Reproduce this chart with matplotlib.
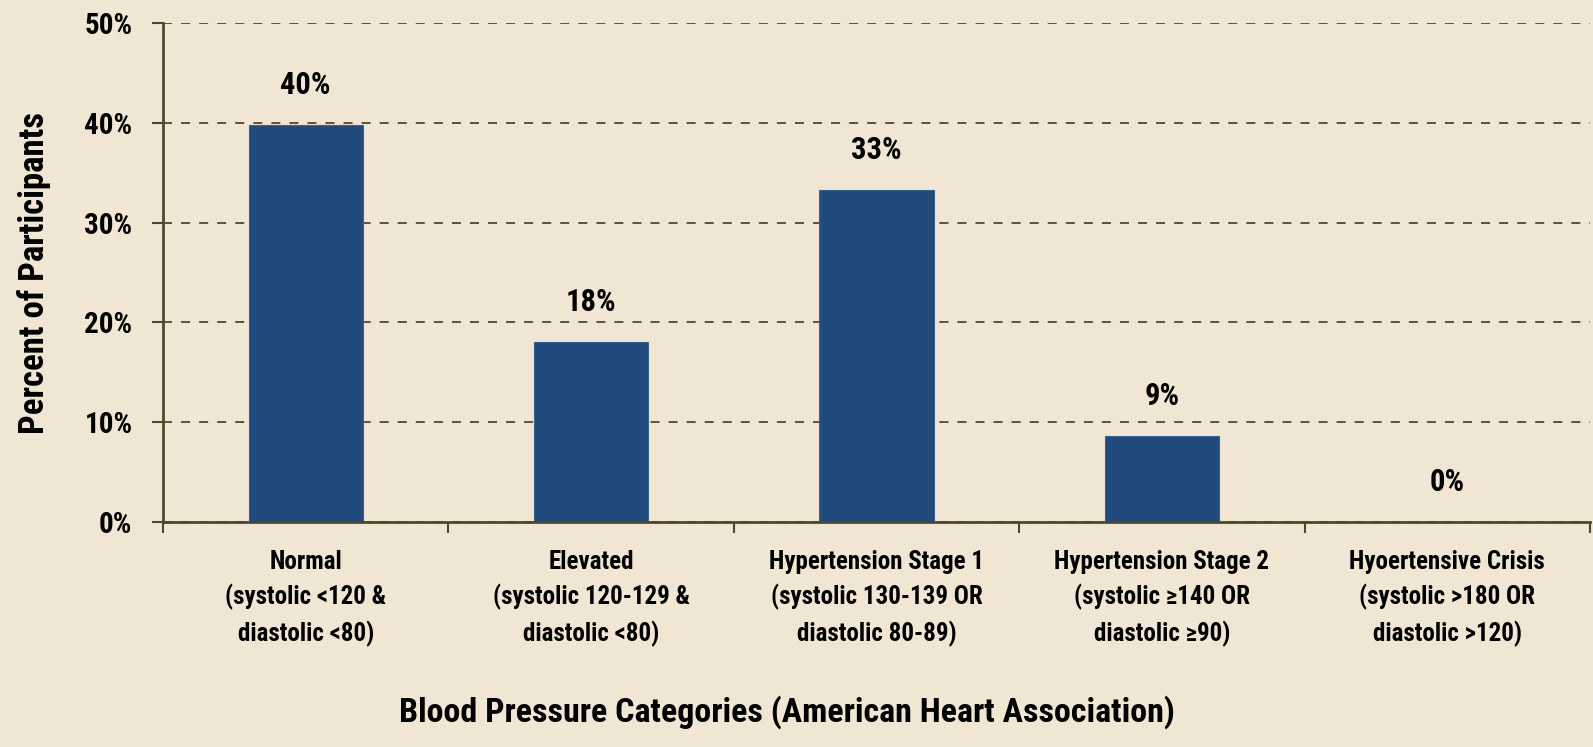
import matplotlib
matplotlib.use("Agg")
import matplotlib.pyplot as plt
from matplotlib import font_manager

# data
categories = [
    "Normal\n(systolic <120 &\ndiastolic <80)",
    "Elevated\n(systolic 120-129 &\ndiastolic <80)",
    "Hypertension Stage 1\n(systolic 130-139 OR\ndiastolic 80-89)",
    "Hypertension Stage 2\n(systolic \u2265140 OR\ndiastolic \u226590)",
    "Hyoertensive Crisis\n(systolic >180 OR\ndiastolic >120)",
]
percent = [39.8, 18.0, 33.3, 8.6, 0.0]
y_ticks = [0, 10, 20, 30, 40, 50]

# pick a narrow font if one is installed
names = {f.name for f in font_manager.fontManager.ttflist}
family = "DejaVu Sans"
for cand in ["Roboto Condensed", "Liberation Sans Narrow", "Open Sans Condensed", "Noto Sans Condensed"]:
    if cand in names:
        family = cand
        break
plt.rcParams["font.family"] = [family, "DejaVu Sans"]
plt.rcParams["font.weight"] = "bold"

bg = "#f1e6d3"
axis_col = "#4f4828"
bar_col = "#204a7c"

fig = plt.figure(figsize=(15.93, 7.47), dpi=100, facecolor=bg)
ax = fig.add_axes([163 / 1593, 1 - 522 / 747, 1427 / 1593, 499 / 747])
ax.set_facecolor(bg)

x = list(range(len(categories)))
bar_edges = ["#3d6290" if p > 0 else "#8a8a80" for p in percent]
ax.bar(x, percent, width=0.4, color=bar_col, edgecolor=bar_edges, linewidth=0.8, zorder=3)

for xi, p in zip(x, percent):
    ax.annotate(f"{round(p)}%", (xi, p), xytext=(0, 18), textcoords="offset points",
                ha="center", va="bottom", fontsize=22, fontweight="bold")

ax.set_xlim(-0.5, len(categories) - 0.5)
ax.set_ylim(0, 50)
ax.set_yticks(y_ticks)
ax.set_yticklabels([f"{t}%" for t in y_ticks], fontsize=21, fontweight="bold")
ax.yaxis.grid(True, linestyle=(0, (5, 5)), color=axis_col, linewidth=1.3, zorder=0)

ax.set_xticks(x)
ax.set_xticklabels(categories, fontsize=18, fontweight="bold", linespacing=1.5)
ax.set_xticks([i - 0.5 for i in range(len(categories) + 1)], minor=True)
ax.tick_params(axis="x", which="major", length=0, pad=20)
ax.tick_params(axis="x", which="minor", length=8, width=1.5, color=axis_col, direction="out")
ax.tick_params(axis="y", length=8, width=1.5, color=axis_col, direction="out", pad=14)

for side in ["top", "right"]:
    ax.spines[side].set_visible(False)
for side in ["left", "bottom"]:
    ax.spines[side].set_color(axis_col)
    ax.spines[side].set_linewidth(2)
    ax.spines[side].set_zorder(4)

ax.set_ylabel("Percent of Participants", fontsize=25, fontweight="bold")
ax.yaxis.set_label_coords((34 - 163) / 1427, 0.5)
ax.yaxis.label.set_va("center")
ax.set_xlabel("Blood Pressure Categories (American Heart Association)", fontsize=24.5, fontweight="bold")
ax.xaxis.set_label_coords((787 - 163) / 1427, (522 - 712) / 499)
ax.xaxis.label.set_va("center")

fig.savefig("out.png", dpi=100, facecolor=bg)
